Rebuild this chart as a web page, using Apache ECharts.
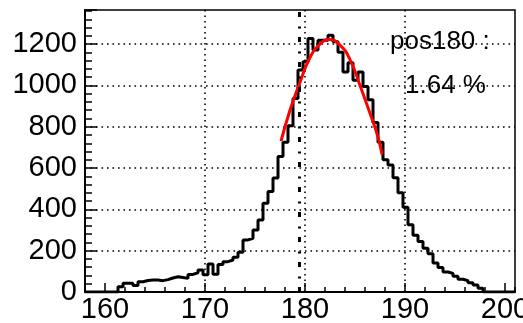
<!DOCTYPE html>
<html>
<head>
<meta charset="utf-8">
<script src="https://cdn.jsdelivr.net/npm/echarts@6/dist/echarts.min.js"></script>
<style>
  html, body { margin: 0; padding: 0; background: #fff; }
  .hist { width: 523px; height: 323px; }
</style>
</head>
<body>
<div class="hist"></div>
<script>
// histogram: uniform bins, counts
var firstEdge = 161.3;
var binWidth = 0.5;
var counts = [26, 42, 42, 32, 50, 56, 58, 58, 55, 60,
  68, 74, 70, 66, 85, 93, 106, 84, 135, 86,
  133, 147, 155, 168, 192, 252, 260, 300, 349, 430,
  487, 552, 656, 725, 805, 937, 1074, 1114, 1227, 1171,
  1219, 1219, 1243, 1211, 1160, 1065, 1110, 1025, 1065, 995,
  930, 820, 725, 640, 615, 553, 480, 410, 325, 275,
  245, 212, 185, 140, 118, 97, 90, 76, 62, 55,
  45, 34, 18];

// red fit curve
var fitX = [177.6, 178.5, 179.5, 180.5, 181.5, 182.4, 183.5, 184.5, 185.5, 186.5, 187.3, 187.7];
var fitY = [730, 880, 1015, 1135, 1200, 1222, 1195, 1125, 1000, 865, 750, 665];

var xRange = [158, 201];
var yRange = [0, 1365];
var xMajor = [160, 170, 180, 190, 200];
var markX = 179.4;
var labelLines = ['pos180 :', '1.64 %'];

(function(){
  var chartDom = document.querySelector(".hist");
  var myChart = echarts.init(chartDom);
  var option;

  var font = 'Liberation Sans, Arial, sans-serif';

  // step line: start at left border, go through every bin, come back to 0
  var histData = [[xRange[0], 0]];
  counts.forEach(function(c, i){
    histData.push([firstEdge + i * binWidth, c]);
  });
  histData.push([firstEdge + counts.length * binWidth, 0]);
  histData.push([xRange[1], 0]);

  var fitData = fitX.map(function(x, i){ return [x, fitY[i]]; });

  var dotted = { color: '#000', width: 1.6, type: [1.6, 3.9] };

  option = {
    animation: false,
    grid: {
      left: 85, right: 8, top: 10, bottom: 31,
      show: true, borderColor: '#000', borderWidth: 1.5,
      outerBoundsMode: 'none'
    },
    xAxis: [
      {
        // minor ticks every 2
        type: 'value', min: xRange[0], max: xRange[1], interval: 2,
        axisLine: { show: true, lineStyle: { color: '#000', width: 2 } },
        axisTick: { show: true, inside: true, length: 5, lineStyle: { color: '#000', width: 1.5 } },
        axisLabel: { show: false },
        splitLine: { show: false }
      },
      {
        type: 'value', min: xRange[0], max: xRange[1],
        position: 'bottom',
        axisLine: { show: false },
        axisTick: { show: true, inside: true, length: 9, customValues: xMajor, lineStyle: { color: '#000', width: 1.5 } },
        axisLabel: { show: true, customValues: xMajor, margin: 3, color: '#000', fontSize: 29, fontFamily: font,
          formatter: function(v){ return String(v); } },
        splitLine: { show: true, showMinLine: false, showMaxLine: false, lineStyle: dotted }
      }
    ],
    yAxis: {
      type: 'value', min: yRange[0], max: yRange[1], interval: 200,
      axisLine: { show: true, lineStyle: { color: '#000', width: 2 } },
      axisTick: { show: true, inside: true, length: 12, lineStyle: { color: '#000', width: 1.5 } },
      minorTick: { show: true, splitNumber: 5, length: 7, lineStyle: { color: '#000', width: 1.5 } },
      axisLabel: { margin: 8, color: '#000', fontSize: 29, fontFamily: font, showMaxLabel: false,
        formatter: function(v){ return String(v); } },
      splitLine: { show: true, showMinLine: false, showMaxLine: false, lineStyle: dotted }
    },
    series: [
      {
        type: 'line',
        xAxisIndex: 0,
        step: 'end',
        data: histData,
        symbol: 'none',
        lineStyle: { color: '#000', width: 3 },
        markLine: {
          silent: true,
          symbol: 'none',
          label: { show: false },
          lineStyle: { color: '#000', width: 3, type: [5, 8.5, 2, 9.5] },
          data: [{ xAxis: markX }]
        },
        z: 3
      },
      {
        type: 'line',
        xAxisIndex: 0,
        smooth: true,
        data: fitData,
        symbol: 'none',
        lineStyle: { color: '#ff0000', width: 3 },
        z: 4
      }
    ],
    graphic: [
      {
        type: 'text', left: 390, top: 29, z: 10,
        style: { text: labelLines[0], fill: '#000', fontSize: 26, fontFamily: font }
      },
      {
        type: 'text', left: 405, top: 73, z: 10,
        style: { text: labelLines[1], fill: '#000', fontSize: 26, fontFamily: font }
      }
    ]
  };

  option && myChart.setOption(option);
})();
</script>
</body>
</html>
